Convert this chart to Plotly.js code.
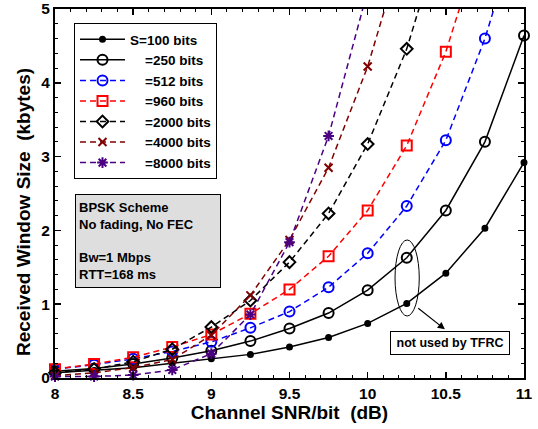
<!DOCTYPE html>
<html>
<head>
<meta charset="utf-8">
<script src="https://cdn.plot.ly/plotly-3.0.1.min.js"></script>
<style>html,body{margin:0;padding:0;background:#fff;}#chart{width:538px;height:429px;}</style>
</head>
<body>
<div id="chart"></div>
<script>
// SNR/bit values (dB)
const snr = [8, 8.25, 8.5, 8.75, 9, 9.25, 9.5, 9.75, 10, 10.25, 10.5, 10.75, 11];
// Received window size (kbytes) per packet size
const s100  = [0.07, 0.10, 0.14, 0.20, 0.26, 0.32, 0.42, 0.55, 0.74, 1.01, 1.42, 2.03, 2.92];
const s250  = [0.09, 0.13, 0.19, 0.27, 0.37, 0.50, 0.67, 0.88, 1.19, 1.63, 2.27, 3.20, 4.64];
const s512  = [0.12, 0.18, 0.26, 0.36, 0.49, 0.68, 0.90, 1.23, 1.69, 2.33, 3.22, 4.60, 6.33];
const s960  = [0.12, 0.19, 0.28, 0.42, 0.59, 0.87, 1.20, 1.65, 2.27, 3.15, 4.42, 6.10, null];
const s2000 = [0.07, 0.12, 0.22, 0.39, 0.69, 1.05, 1.57, 2.23, 3.17, 4.46, 6.20, null, null];
const s4000 = [0.03, 0.07, 0.14, 0.25, 0.58, 1.12, 1.87, 2.85, 4.22, 6.00, null, null, null];
const s8000 = [0.02, 0.02, 0.04, 0.11, 0.33, 0.86, 1.84, 3.28, 5.25, null, null, null, null];
const names = ['S=100 bits', '\u00A0\u00A0\u00A0\u00A0=250 bits', '\u00A0\u00A0\u00A0\u00A0=512 bits',
  '\u00A0\u00A0\u00A0\u00A0=960 bits', '\u00A0\u00A0\u00A0\u00A0=2000 bits', '\u00A0\u00A0\u00A0\u00A0=4000 bits',
  '\u00A0\u00A0\u00A0\u00A0=8000 bits'];
const xTickVals = [8, 8.5, 9, 9.5, 10, 10.5, 11];
const xTickText = ['8', '8.5', '9', '9.5', '10', '10.5', '11'];
const yTickVals = [0, 1, 2, 3, 4, 5];
const yTickText = ['0', '1', '2', '3', '4', '5'];
const xTitle = 'Channel SNR/bit\u00A0\u00A0(dB)';
const yTitle = 'Received Window Size\u00A0\u00A0(kbytes)';

const series = [s100, s250, s512, s960, s2000, s4000, s8000];
const styles = [
  {color: '#000000', dash: 'solid', symbol: 'circle', size: 5},
  {color: '#000000', dash: 'solid', symbol: 'circle-open', size: 10},
  {color: '#0000FF', dash: '6px,4px', symbol: 'circle-open', size: 10},
  {color: '#FF0000', dash: '6px,4px', symbol: 'square-open', size: 10},
  {color: '#000000', dash: '6px,4px', symbol: 'diamond-open', size: 9},
  {color: '#800000', dash: '6px,4px', symbol: 'x-thin-open', size: 8},
  {color: '#4B0082', dash: '6px,4px', symbol: 'asterisk-open', size: 9}
];
const traces = series.map((ys, i) => ({
  x: snr, y: ys, name: names[i], type: 'scatter', mode: 'lines+markers',
  cliponaxis: false,
  line: {color: styles[i].color, width: 1.5, dash: styles[i].dash},
  marker: {symbol: styles[i].symbol, size: styles[i].size, color: styles[i].color,
           line: {color: styles[i].color, width: 2}}
}));

const F = 'Arial, "Liberation Sans", sans-serif';
const layout = {
  width: 538, height: 429,
  margin: {l: 55, r: 14, t: 9, b: 51},
  paper_bgcolor: '#ffffff', plot_bgcolor: '#ffffff',
  font: {family: F, color: '#000', weight: 'bold'},
  showlegend: true,
  legend: {x: 0.0405, y: 0.962, xanchor: 'left', yanchor: 'top',
    bgcolor: '#ffffff', bordercolor: '#000', borderwidth: 1, itemwidth: 45,
    font: {family: F, size: 13.5, weight: 'bold', color: '#000'}, tracegroupgap: 0},
  xaxis: {range: [8, 11], tickvals: xTickVals, ticktext: xTickText,
    showline: true, linewidth: 2, linecolor: '#000', mirror: 'allticks',
    ticks: 'inside', ticklen: 6, tickwidth: 1.5, tickcolor: '#000',
    showgrid: false, zeroline: false,
    tickfont: {family: F, size: 15.5, weight: 'bold'},
    minor: {dtick: 0.1, tick0: 8, ticks: 'inside', ticklen: 3, tickwidth: 1, tickcolor: '#000', showgrid: false},
    title: {text: xTitle, font: {family: F, size: 19, weight: 'bold'}, standoff: 3}},
  yaxis: {range: [0, 5], tickvals: yTickVals, ticktext: yTickText,
    showline: true, linewidth: 2, linecolor: '#000', mirror: 'allticks',
    ticks: 'inside', ticklen: 6, tickwidth: 1.5, tickcolor: '#000',
    showgrid: false, zeroline: false,
    tickfont: {family: F, size: 15.5, weight: 'bold'},
    minor: {dtick: 0.2, tick0: 0, ticks: 'inside', ticklen: 3, tickwidth: 1, tickcolor: '#000', showgrid: false}},
  shapes: [
    {type: 'circle', xref: 'x', yref: 'y', x0: 10.175, x1: 10.33, y0: 0.84, y1: 1.87,
     line: {color: '#000', width: 1}}
  ],
  annotations: [
    {xref: 'paper', yref: 'paper', x: -0.066, y: 0.45, xanchor: 'center', yanchor: 'middle',
     text: yTitle, textangle: -90, showarrow: false,
     font: {family: F, size: 19, weight: 'bold', color: '#000'}},
    {xref: 'paper', yref: 'paper', x: 0.0426, y: 0.4986, xanchor: 'left', yanchor: 'top',
     text: 'BPSK Scheme<br>No fading, No FEC<br> <br>Bw=1 Mbps<br>RTT=168 ms',
     align: 'left', valign: 'middle', showarrow: false, width: 138, height: 86, borderpad: 3,
     bgcolor: '#dedede', bordercolor: '#000', borderwidth: 1,
     font: {family: F, size: 13, weight: 'bold', color: '#000'}},
    {xref: 'x', yref: 'y', x: 10.494, y: 0.66, axref: 'x', ayref: 'y', ax: 10.314, ay: 0.96,
     text: '', showarrow: true, arrowhead: 2, arrowsize: 1.2, arrowwidth: 1.2, arrowcolor: '#000'},
    {xref: 'x', yref: 'y', x: 10.526, y: 0.47, xanchor: 'center', yanchor: 'middle',
     text: 'not used by TFRC', showarrow: false, width: 112, height: 16, borderpad: 3,
     bgcolor: '#ffffff', bordercolor: '#000', borderwidth: 1,
     font: {family: F, size: 12.5, weight: 'bold', color: '#000'}}
  ]
};
Plotly.newPlot('chart', traces, layout, {displayModeBar: false, staticPlot: true});
</script>
</body>
</html>
